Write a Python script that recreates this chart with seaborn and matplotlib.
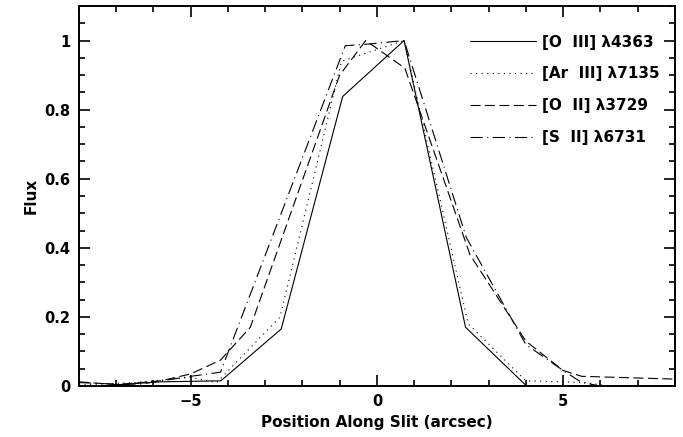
import matplotlib
matplotlib.use('Agg')
import matplotlib.pyplot as plt
from matplotlib.ticker import MultipleLocator, FormatStrFormatter
import pandas as pd
import seaborn as sns

# values
labels = ['[O  III] λ4363', '[Ar  III] λ7135', '[O  II] λ3729', '[S  II] λ6731']

oiii_x = [-7.47, -5.83, -4.19, -2.57, -0.92, 0.73, 2.38, 4.02, 5.66]
oiii_y = [0.0, 0.012, 0.015, 0.165, 0.838, 1.0, 0.17, 0.0, 0.0]

ariii_x = [-8.0, -6.5, -5.0, -4.3, -2.6, -0.95, 0.73, 2.45, 4.0, 5.6, 6.2]
ariii_y = [0.003, 0.01, 0.025, 0.01, 0.2, 0.94, 1.0, 0.18, 0.015, 0.01, 0.0]

oii_x = [-8.0, -7.0, -5.8, -5.0, -4.2, -3.4, -1.0, -0.3, 0.75, 2.5, 4.0, 5.0, 5.5, 8.0]
oii_y = [0.012, 0.004, 0.015, 0.035, 0.075, 0.17, 0.9, 1.0, 0.92, 0.38, 0.13, 0.045, 0.028, 0.02]

sii_x = [-8.0, -6.5, -5.0, -4.2, -0.85, -0.2, 0.73, 2.4, 4.0, 5.0, 5.5, 6.0]
sii_y = [0.01, 0.003, 0.028, 0.04, 0.985, 0.99, 1.0, 0.43, 0.12, 0.045, 0.01, 0.0]

series = [(oiii_x, oiii_y), (ariii_x, ariii_y), (oii_x, oii_y), (sii_x, sii_y)]
styles = ['-', (0, (1, 4)), (0, (9, 4)), (0, (11, 4, 1, 4))]

sns.set_style('ticks', {'xtick.direction': 'in', 'ytick.direction': 'in'})
plt.rcParams['font.family'] = ['DejaVu Sans']
plt.rcParams['font.weight'] = 'bold'
for key in ('text.color', 'axes.labelcolor', 'xtick.color', 'ytick.color',
            'axes.edgecolor'):
    plt.rcParams[key] = 'black'

fig = plt.figure(figsize=(6.83, 4.37), dpi=100)
ax = fig.add_axes([0.1157, 0.1167, 0.8723, 0.8696])

for (xs, ys), label, ls in zip(series, labels, styles):
    df = pd.DataFrame({'x': xs, 'y': ys})
    sns.lineplot(data=df, x='x', y='y', ax=ax, color='black', linewidth=0.8,
                 linestyle=ls, label=label)

ax.set_xlim(-8, 8)
ax.set_ylim(0, 1.1)
ax.xaxis.set_major_locator(MultipleLocator(5))
ax.xaxis.set_minor_locator(MultipleLocator(1))
ax.yaxis.set_major_locator(MultipleLocator(0.2))
ax.yaxis.set_minor_locator(MultipleLocator(0.05))
ax.yaxis.set_major_formatter(FormatStrFormatter('%g'))
ax.tick_params(which='both', top=True, right=True, direction='in', width=1.2,
               labelsize=10.5, pad=6, colors='black')
ax.tick_params(which='major', length=8)
ax.tick_params(which='minor', length=4)
for sp in ax.spines.values():
    sp.set_linewidth(1.4)
    sp.set_color('black')

ax.set_xlabel('Position Along Slit (arcsec)', fontsize=11, fontweight='bold')
ax.set_ylabel('Flux', fontsize=11, fontweight='bold')

ax.legend(loc='upper right', bbox_to_anchor=(1.0, 0.965), frameon=False,
          handlelength=4.3, labelspacing=1.1, fontsize=11, borderaxespad=0.6,
          handletextpad=0.4)

fig.savefig('out.png', dpi=100)
